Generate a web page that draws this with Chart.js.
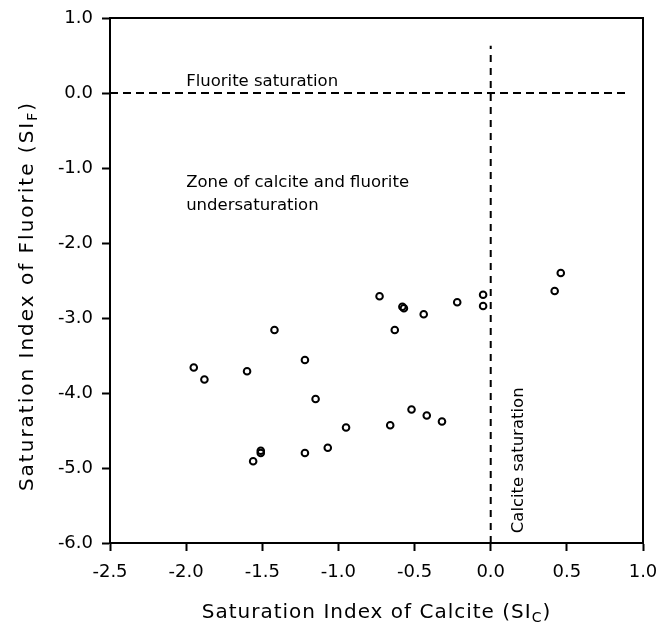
<!DOCTYPE html>
<html>
<head>
<meta charset="utf-8">
<script src="https://cdn.jsdelivr.net/npm/chart.js@4.4.1/dist/chart.umd.min.js"></script>
<style>
    html, body { margin: 0; padding: 0; background: #fff; }
    canvas { display: block; }
</style>
</head>
<body>
<canvas id="siChart" width="658" height="623"></canvas>
<script>
// saturation indices
const calciteSI = [-0.73, -0.58, -0.57, -0.44, -0.22, -0.05, -0.05, 0.46, 0.42,
    -1.42, -0.63, -1.22, -1.95, -1.88, -1.60, -1.15, -0.52, -0.42, -0.32,
    -0.66, -0.95, -1.07, -1.22, -1.51, -1.51, -1.56];
const fluoriteSI = [-2.71, -2.85, -2.87, -2.95, -2.79, -2.69, -2.84, -2.40, -2.64,
    -3.16, -3.16, -3.56, -3.66, -3.82, -3.71, -4.08, -4.22, -4.30, -4.38,
    -4.43, -4.46, -4.73, -4.80, -4.77, -4.80, -4.91];

// saturation reference lines
const fluoriteLineX = [-2.5, 0.9];
const fluoriteLineY = [0, 0];
const calciteLineX = [0, 0];
const calciteLineY = [-6, 0.63];

const xTickValues = [-2.5, -2.0, -1.5, -1.0, -0.5, 0.0, 0.5, 1.0];
const yTickValues = [1, 0, -1, -2, -3, -4, -5, -6];

const font = "'DejaVu Sans', Verdana, sans-serif";

document.addEventListener("DOMContentLoaded", function() {

    const points = calciteSI.map((x, i) => ({ x: x, y: fluoriteSI[i] }));
    const fluoriteLine = fluoriteLineX.map((x, i) => ({ x: x, y: fluoriteLineY[i] }));
    const calciteLine = calciteLineX.map((x, i) => ({ x: x, y: calciteLineY[i] }));

    function drawSubText(ctx, main, sub, tail, x, y, size) {
        ctx.font = size + 'px ' + font;
        const w1 = ctx.measureText(main).width;
        const w3 = ctx.measureText(tail).width;
        ctx.font = Math.round(size * 0.72) + 'px ' + font;
        const w2 = ctx.measureText(sub).width;
        let left = x - (w1 + w2 + w3) / 2;
        ctx.textAlign = 'left';
        ctx.font = size + 'px ' + font;
        ctx.fillText(main, left, y);
        ctx.font = Math.round(size * 0.72) + 'px ' + font;
        ctx.fillText(sub, left + w1, y + size * 0.22);
        ctx.font = size + 'px ' + font;
        ctx.fillText(tail, left + w1 + w2, y);
    }

    const framePlugin = {
        id: 'frame',
        afterDraw(chart) {
            const ctx = chart.ctx;
            const a = chart.chartArea;
            const xs = chart.scales.x;
            const ys = chart.scales.y;

            ctx.save();
            ctx.strokeStyle = '#000';
            ctx.lineWidth = 2;
            ctx.strokeRect(a.left, a.top, a.right - a.left, a.bottom - a.top);

            // labels inside the plot
            ctx.fillStyle = '#000';
            ctx.font = '16.5px ' + font;
            ctx.textAlign = 'left';
            ctx.textBaseline = 'alphabetic';
            ctx.fillText('Fluorite saturation', xs.getPixelForValue(-2.0), ys.getPixelForValue(0.09));
            ctx.fillText('Zone of calcite and fluorite', xs.getPixelForValue(-2.0), ys.getPixelForValue(-1.25));
            ctx.fillText('undersaturation', xs.getPixelForValue(-2.0), ys.getPixelForValue(-1.56));

            ctx.save();
            ctx.translate(xs.getPixelForValue(0.21), ys.getPixelForValue(-5.87));
            ctx.rotate(-Math.PI / 2);
            ctx.fillText('Calcite saturation', 0, 0);
            ctx.restore();

            // axis titles with subscripts
            ctx.letterSpacing = '1px';
            drawSubText(ctx, 'Saturation Index of Calcite (SI', 'C', ')', (a.left + a.right) / 2, 618, 20);

            ctx.letterSpacing = '2px';
            ctx.save();
            ctx.translate(33, 296);
            ctx.rotate(-Math.PI / 2);
            drawSubText(ctx, 'Saturation Index of Fluorite (SI', 'F', ')', 0, 0, 20);
            ctx.restore();

            ctx.restore();
        }
    };

    new Chart(document.getElementById('siChart'), {
        type: 'scatter',
        data: {
            datasets: [{
                label: 'Samples',
                data: points,
                pointStyle: 'circle',
                pointRadius: 3.3,
                pointBorderWidth: 2,
                pointBorderColor: '#000',
                pointBackgroundColor: 'rgba(255,255,255,0)',
                showLine: false
            }, {
                label: 'Fluorite saturation',
                data: fluoriteLine,
                showLine: true,
                borderColor: '#000',
                borderWidth: 2,
                borderDash: [8, 5],
                pointRadius: 0
            }, {
                label: 'Calcite saturation',
                data: calciteLine,
                showLine: true,
                borderColor: '#000',
                borderWidth: 2,
                borderDash: [7, 6],
                pointRadius: 0
            }]
        },
        options: {
            responsive: false,
            animation: false,
            layout: {
                padding: { top: 18, right: 15, left: 0, bottom: 0 }
            },
            plugins: {
                legend: { display: false },
                tooltip: { enabled: false }
            },
            scales: {
                x: {
                    type: 'linear',
                    min: -2.5,
                    max: 1.0,
                    afterFit: function(scale) {
                        scale.height = 80;
                        scale.paddingLeft = 0;
                        scale.paddingRight = 0;
                    },
                    afterBuildTicks: function(scale) {
                        scale.ticks = xTickValues.map(v => ({ value: v }));
                    },
                    border: { display: true, color: '#000', width: 2 },
                    grid: {
                        drawOnChartArea: false,
                        drawTicks: true,
                        tickLength: 8,
                        tickColor: '#000',
                        tickWidth: 2
                    },
                    ticks: {
                        autoSkip: false,
                        maxRotation: 0,
                        padding: 11,
                        color: '#000',
                        font: { family: font, size: 18 },
                        callback: v => v.toFixed(1)
                    }
                },
                y: {
                    type: 'linear',
                    min: -6,
                    max: 1,
                    afterFit: function(scale) {
                        scale.width = 110;
                        scale.paddingTop = 0;
                        scale.paddingBottom = 0;
                    },
                    afterBuildTicks: function(scale) {
                        scale.ticks = yTickValues.map(v => ({ value: v }));
                    },
                    border: { display: true, color: '#000', width: 2 },
                    grid: {
                        drawOnChartArea: false,
                        drawTicks: true,
                        tickLength: 8,
                        tickColor: '#000',
                        tickWidth: 2
                    },
                    ticks: {
                        autoSkip: false,
                        padding: 9,
                        color: '#000',
                        font: { family: font, size: 18 },
                        callback: v => v.toFixed(1)
                    }
                }
            }
        },
        plugins: [framePlugin]
    });
});
</script>
</body>
</html>
